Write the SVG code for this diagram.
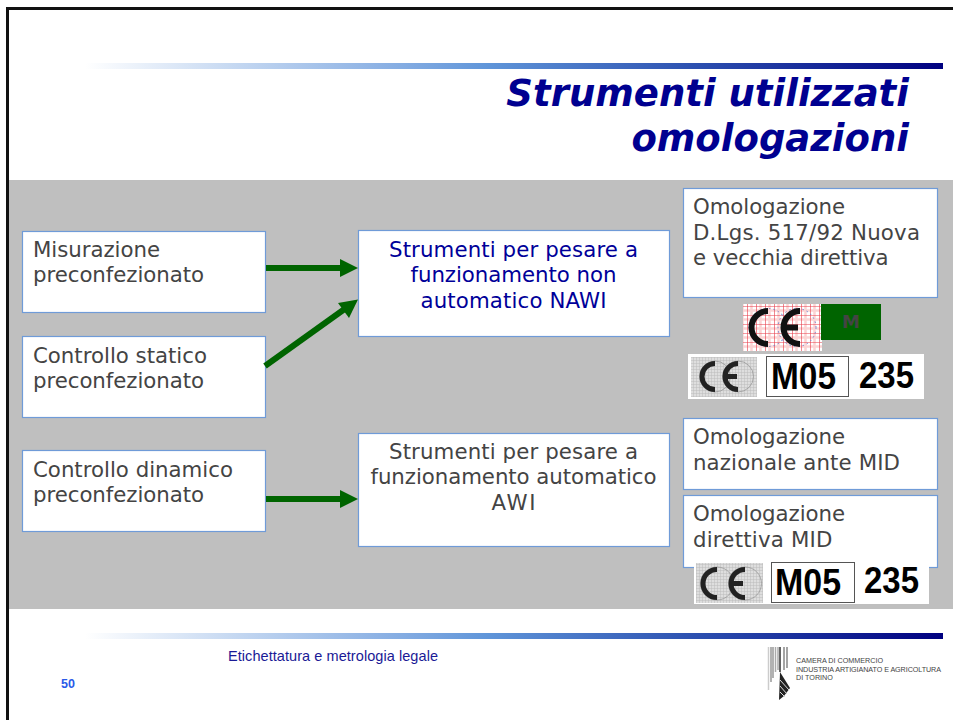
<svg xmlns="http://www.w3.org/2000/svg" width="953" height="720" viewBox="0 0 953 720">
<style>
.box{fill:#fff;stroke:#6f9bd8;stroke-width:1.2}
.t{font-family:"DejaVu Sans",Verdana,sans-serif;font-size:21.300px;fill:#444}
.b{fill:#000099}
.title{font-family:"DejaVu Sans",Verdana,sans-serif;font-size:37px;font-weight:bold;font-style:italic;fill:#000090;text-anchor:end}
.mark{font-family:"Liberation Sans",Arial,sans-serif;font-weight:bold;fill:#000;font-size:36px}
.ce{fill:none;stroke:#111;stroke-width:6}
.ce2{fill:none;stroke:#222;stroke-width:5}
.ring{fill:none;stroke:#6a7fd0;stroke-width:1;stroke-dasharray:1.500 3}
.ring2{fill:none;stroke:#999;stroke-width:0.800}
.cam{font-family:"Liberation Sans",Arial,sans-serif;font-size:7.200px;fill:#444}
.arr{stroke:#006400;stroke-width:6;fill:none}
.head{fill:#006400}
</style>
<defs>
<linearGradient id="band"><stop offset="0" stop-color="#fff"/><stop offset="0.37" stop-color="#84ace2"/><stop offset="0.47" stop-color="#5f95d9"/><stop offset="0.71" stop-color="#2c50b0"/><stop offset="1" stop-color="#000080"/></linearGradient>
<pattern id="red" width="9" height="9" patternUnits="userSpaceOnUse"><rect width="9" height="9" fill="#fff"/><path d="M4.500 0V9M0 4.500H9" stroke="#fbd4d4" stroke-width="2.500"/><path d="M0 0H9M0 0V9" stroke="#e83a48" stroke-width="1.200"/></pattern>
<pattern id="grey" width="3" height="3" patternUnits="userSpaceOnUse"><rect width="3" height="3" fill="#dedede"/><path d="M0 0H3M0 0V3" stroke="#bcbcbc" stroke-width="1"/></pattern>
</defs>
<rect width="953" height="720" fill="#fff"/>
<rect x="8" y="180" width="945" height="429" fill="#bfbfbf"/>
<path d="M7.500 720V8.500H953" fill="none" stroke="#111" stroke-width="3"/>
<rect x="85" y="63" width="858" height="6" fill="url(#band)"/>
<rect x="85" y="633" width="858" height="6" fill="url(#band)"/>
<g id="title"><text class="title" x="909" y="106">Strumenti utilizzati</text><text class="title" x="909" y="151">omologazioni</text></g>
<g id="n1"><rect class="box" x="22.500" y="231.500" width="243" height="81"/><text class="t" x="33" y="257" textLength="127">Misurazione</text><text class="t" x="33" y="282" textLength="171">preconfezionato</text></g>
<g id="n2"><rect class="box" x="22.500" y="336.500" width="243" height="81"/><text class="t" x="33" y="362.500" textLength="174">Controllo statico</text><text class="t" x="33" y="387.500" textLength="171">preconfezionato</text></g>
<g id="n3"><rect class="box" x="22.500" y="450.500" width="243" height="81"/><text class="t" x="33" y="476.500" textLength="200">Controllo dinamico</text><text class="t" x="33" y="501.500" textLength="171">preconfezionato</text></g>
<g id="n4"><rect class="box" x="358.500" y="230.500" width="311" height="106"/><text class="t b" x="389" y="257" textLength="249">Strumenti per pesare a</text><text class="t b" x="410.500" y="282" textLength="206">funzionamento non</text><text class="t b" x="420.500" y="307.500" textLength="186">automatico NAWI</text></g>
<g id="n5"><rect class="box" x="358.500" y="433.500" width="311" height="113"/><text class="t" x="389" y="458.500" textLength="249">Strumenti per pesare a</text><text class="t" x="370.500" y="484" textLength="286">funzionamento automatico</text><text class="t" x="491.500" y="509.500" textLength="44">AWI</text></g>
<g id="n6"><rect class="box" x="683.500" y="188.500" width="254" height="109"/><text class="t" x="693" y="214" textLength="152">Omologazione</text><text class="t" x="693" y="239.700" textLength="227">D.Lgs. 517/92 Nuova</text><text class="t" x="693" y="265.300" textLength="195.500">e vecchia direttiva</text></g>
<g id="n7"><rect class="box" x="683.500" y="418.500" width="254" height="71"/><text class="t" x="693" y="443.500" textLength="152">Omologazione</text><text class="t" x="693" y="470" textLength="207">nazionale ante MID</text></g>
<g id="n8"><rect class="box" x="683.500" y="495.500" width="254" height="72"/><text class="t" x="693" y="520.500" textLength="152">Omologazione</text><text class="t" x="693" y="546.700" textLength="139.500">direttiva MID</text></g>
<g id="connectors">
<path class="arr" d="M266 268H342"/><path class="head" d="M340 259L358 268L340 277Z"/>
<path class="arr" d="M265 366L346 308"/><path class="head" d="M338 303L358 299.500L349 318Z"/>
<path class="arr" d="M266 499H342"/><path class="head" d="M340 490L358 499L340 508Z"/>
</g>
<g id="mark1">
<rect x="743" y="304" width="79" height="47" fill="url(#red)"/>
<circle class="ring" cx="768" cy="327.500" r="19"/><circle class="ring" cx="797" cy="327.500" r="19"/>
<path class="ce" d="M768 311A16.500 16.500 0 0 0 768 344"/>
<path class="ce" d="M800 311A16.500 16.500 0 0 0 800 344M783 327.500H798"/>
<rect x="821" y="304" width="60" height="36" fill="#006400"/>
<text x="851" y="328" font-family="'DejaVu Sans',sans-serif" font-weight="bold" font-size="18" fill="#444" text-anchor="middle">M</text>
</g>
<g id="mark2">
<rect x="688" y="354" width="236" height="45" fill="#fff"/>
<rect x="691" y="357" width="66" height="40" fill="url(#grey)"/>
<circle class="ring2" cx="715" cy="376.500" r="15.500"/><circle class="ring2" cx="738" cy="376.500" r="15.500"/>
<path class="ce2" d="M715 363.500A13 13 0 0 0 715 389.500"/>
<path class="ce2" d="M738 363.500A13 13 0 0 0 738 389.500M725 376.500H737"/>
<rect x="766.500" y="356.500" width="82" height="40" fill="#fff" stroke="#555"/>
<text class="mark" x="771" y="389" textLength="65" lengthAdjust="spacingAndGlyphs">M05</text>
<text class="mark" x="859" y="388" textLength="55" lengthAdjust="spacingAndGlyphs">235</text>
</g>
<g id="mark3">
<rect x="694" y="564" width="235" height="40" fill="#fff"/>
<rect x="696" y="563" width="67" height="40" fill="url(#grey)"/>
<circle class="ring2" cx="717" cy="583.500" r="16.500"/><circle class="ring2" cx="745" cy="583.500" r="16.500"/>
<path class="ce2" d="M717 569.500A14 14 0 0 0 717 597.500"/>
<path class="ce2" d="M745 569.500A14 14 0 0 0 745 597.500M731 583.500H743"/>
<rect x="771.500" y="562.500" width="83" height="40" fill="#fff" stroke="#555"/>
<text class="mark" x="775" y="595" textLength="66" lengthAdjust="spacingAndGlyphs">M05</text>
<text class="mark" x="864" y="593" textLength="55" lengthAdjust="spacingAndGlyphs">235</text>
</g>
<g id="footer">
<text x="228" y="661" font-family="'Liberation Sans',Arial,sans-serif" font-size="14.500" fill="#1a1a96" textLength="210">Etichettatura e metrologia legale</text>
<text x="61" y="688" font-family="'Liberation Sans',Arial,sans-serif" font-size="12.500" font-weight="bold" fill="#2a5ae8">50</text>
</g>
<g id="logo">
<path d="M768.500 647V690" stroke="#ccc" stroke-width="1.500"/>
<path d="M771 647V682M773 647V678" stroke="#999" stroke-width="1.500"/>
<path d="M775.500 647V672M778 647V670" stroke="#aaa" stroke-width="1.500"/>
<path d="M780 647V672" stroke="#333" stroke-width="1.500"/>
<path d="M784 647V670M787 647V668" stroke="#888" stroke-width="1.500"/>
<path d="M780 672L790 688L784 696L779 700Z" fill="#222"/>
<path d="M780 680L789 690M780 686L787 694M780 692L785 697" stroke="#ddd" stroke-width="1" fill="none"/>
<text class="cam" x="796" y="663">CAMERA DI COMMERCIO</text>
<text class="cam" x="796" y="672" textLength="145">INDUSTRIA ARTIGIANATO E AGRICOLTURA</text>
<text class="cam" x="796" y="680">DI TORINO</text>
</g>
</svg>
